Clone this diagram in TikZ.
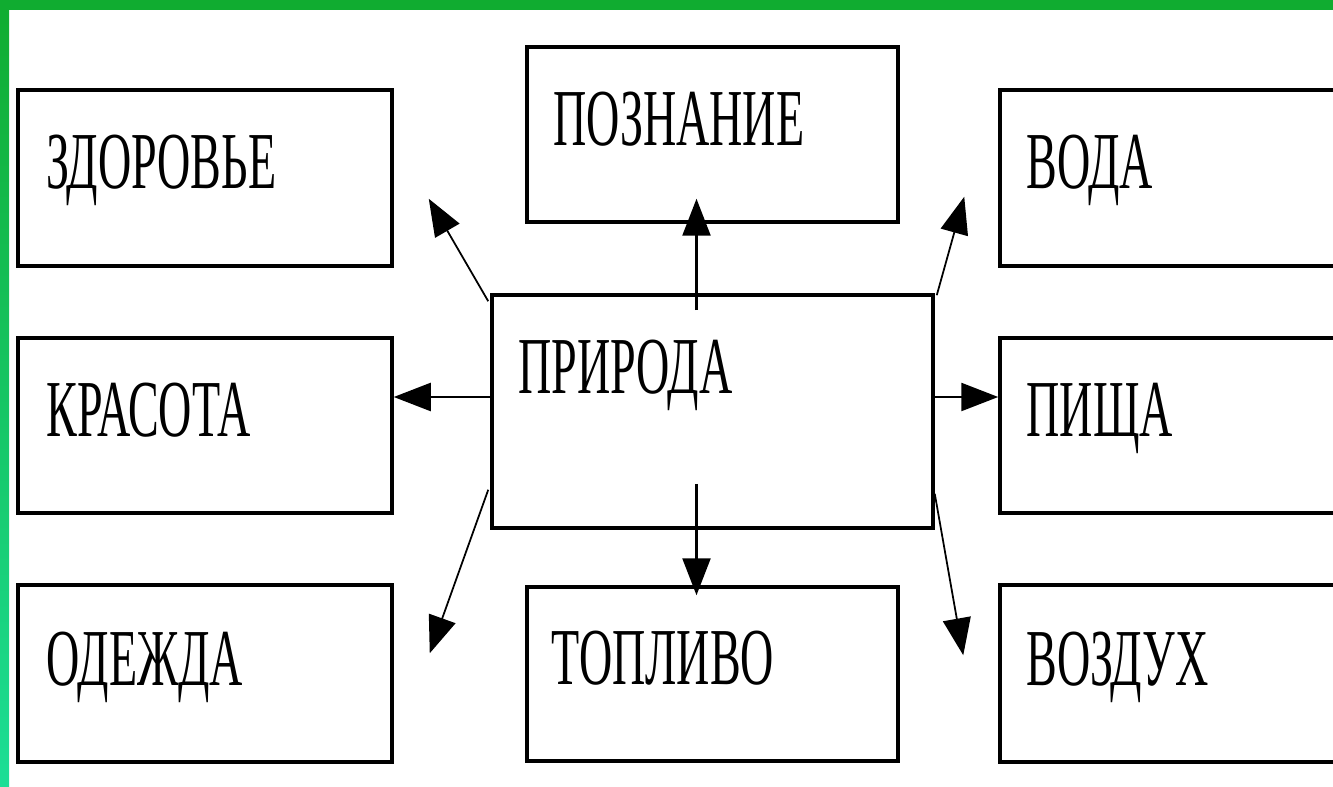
\documentclass[tikz,border=0pt]{standalone}
\usepackage{fontspec}
\usetikzlibrary{arrows.meta,fit}
\newfontfamily\boxfont[FakeStretch=0.57]{Liberation Serif}
\definecolor{framegreen}{RGB}{16,172,48}
\definecolor{framemint}{RGB}{28,222,150}
\tikzset{
    box/.style={draw=black, line width=2pt, inner sep=0pt},
    word/.style={anchor=base west, inner sep=0pt, font=\boxfont\fontsize{46}{50}\selectfont},
    link/.style={-{Triangle[length=0.74cm,width=0.56cm]}, line width=1.4pt},
    slant/.style={link, line width=1pt},
}

\begin{document}
\begin{tikzpicture}[x=0.02cm, y=-0.02cm]
  \clip (0,0) rectangle (1333,787);
  \fill[white] (0,0) rectangle (1333,787);

  % Frame
  \shade[top color=framegreen, bottom color=framemint] (0,0) rectangle (9,787);
  \fill[framegreen] (0,0) rectangle (1333,10);

  % Boxes
  \node[box, fit={(18,90) (392,266)}] (zdorovye) {};
  \node[box, fit={(527,47) (898,222)}] (poznanie) {};
  \node[box, fit={(1000,90) (1374,266)}] (voda) {};
  \node[box, fit={(18,338) (392,513)}] (krasota) {};
  \node[box, fit={(492,295) (933,528)}] (priroda) {};
  \node[box, fit={(1000,338) (1374,513)}] (pishcha) {};
  \node[box, fit={(18,585) (392,762)}] (odezhda) {};
  \node[box, fit={(527,587) (898,761)}] (toplivo) {};
  \node[box, fit={(1000,585) (1374,762)}] (vozdukh) {};

  % Labeling
  \node[word] (zdorovye-text) at ([shift={(30,100)}]zdorovye.north west) {ЗДОРОВЬЕ};
  \node[word] (poznanie-text) at ([shift={(28,100)}]poznanie.north west) {ПОЗНАНИЕ};
  \node[word] (voda-text) at ([shift={(28,100)}]voda.north west) {ВОДА};
  \node[word] (krasota-text) at ([shift={(30,100)}]krasota.north west) {КРАСОТА};
  \node[word] (priroda-text) at ([shift={(28,100)}]priroda.north west) {ПРИРОДА};
  \node[word] (pishcha-text) at ([shift={(28,100)}]pishcha.north west) {ПИЩА};
  \node[word] (odezhda-text) at ([shift={(30,102)}]odezhda.north west) {ОДЕЖДА};
  \node[word] (toplivo-text) at ([shift={(26,99)}]toplivo.north west) {ТОПЛИВО};
  \node[word] (vozdukh-text) at ([shift={(28,102)}]vozdukh.north west) {ВОЗДУХ};

  % Straight arrows
  \draw[link] ([shift={(-16,17)}]priroda.north) -- ([shift={(-16,-25)}]poznanie.south);
  \draw[link] ([shift={(-16,-46)}]priroda.south) -- ([shift={(-16,10)}]toplivo.north);
  \draw[link] ([shift={(0,-14.5)}]priroda.west) -- ([shift={(0,-28.5)}]krasota.east);
  \draw[link] ([shift={(0,-14.5)}]priroda.east) -- ([shift={(0,-28.5)}]pishcha.west);

  % Slanted arrows
  \coordinate (ul-tip) at ([shift={(35,-69)}]zdorovye.south east);
  \coordinate (ur-tip) at ([shift={(-34,-71)}]voda.south west);
  \coordinate (ll-tip) at ([shift={(36,70)}]odezhda.north east);
  \coordinate (lr-tip) at ([shift={(-35,72)}]vozdukh.north west);
  \draw[slant] ([shift={(-2,8)}]priroda.north west) -- (ul-tip);
  \draw[slant] ([shift={(2,2)}]priroda.north east) -- (ur-tip);
  \draw[slant] ([shift={(-2,-40)}]priroda.south west) -- (ll-tip);
  \draw[slant] ([shift={(0,-36)}]priroda.south east) -- (lr-tip);

\end{tikzpicture}
\end{document}
